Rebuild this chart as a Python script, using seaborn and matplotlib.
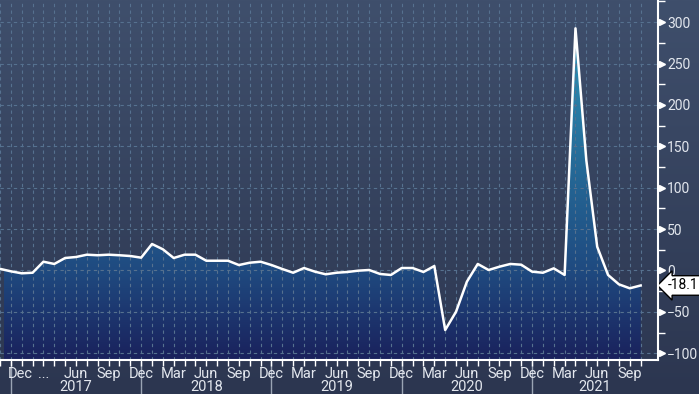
import numpy as np
import pandas as pd
import matplotlib
matplotlib.use("Agg")
import matplotlib.pyplot as plt
import seaborn as sns
from matplotlib.colors import LinearSegmentedColormap
from matplotlib.transforms import (blended_transform_factory, offset_copy,
                                   ScaledTranslation)

# ---------------- data ----------------
month_index = list(range(60))  # 0 = Nov 2016 ... 59 = Oct 2021
values = [2, -1, -3.4, -2.7, 10.6, 7.9, 15.1, 16.3, 19.1, 18.4,
          19.1, 18.4, 17.5, 15.5, 32.0, 25.6, 15.1, 19.1, 19.1, 11.8,
          11.8, 11.8, 6.6, 9.4, 10.6, 6.6, 1.8, -2.7, 3.0, -1.4,
          -4.6, -2.7, -1.8, -0.2, 0.6, -4.2, -5.4, 3.0, 3.0, -1.8,
          5.4, -71.9, -49.8, -13.5, 7.9, 0.6, 4.6, 7.9, 7.0, -1.4,
          -2.7, 2.6, -5.4, 292.5, 133.0, 28.7, -5.4, -16.7, -21.5, -18.1]
tick_months = list(range(1, 60, 3))
tick_labels = ["Dec", "...", "Jun", "Sep"] + ["Dec", "Mar", "Jun", "Sep"] * 4
year_labels = ["2017", "2018", "2019", "2020", "2021"]
year_bounds = [1, 13, 25, 37, 49]
y_ticks = [-100, -50, 0, 50, 100, 150, 200, 250, 300]
last_label = "-18.1"

df = pd.DataFrame({"month": month_index, "value": values})

plt.rcParams["font.family"] = ["Roboto", "DejaVu Sans"]
txt_color = "#e3e7ee"
FS = 10.5
FS_Y = 10

W, H = 699, 394
fig = plt.figure(figsize=(W / 100, H / 100), dpi=100)

# background gradient
bg = fig.add_axes([0, 0, 1, 1], zorder=-10)
bg_cmap = LinearSegmentedColormap.from_list("bg", ["#2c3650", "#3f4f6c"])
bg.imshow(np.linspace(0, 1, 256).reshape(-1, 1), cmap=bg_cmap, aspect="auto",
          origin="lower", extent=[0, 1, 0, 1])
bg.set_axis_off()

ax = fig.add_axes([0, 1 - 359.5 / H, 658 / W, 359.5 / H], zorder=1)
ax.set_facecolor("none")

xlim = (0.34, 60.6)
ylim = (-107.5, 326.7)
ax.set_xlim(*xlim)
ax.set_ylim(*ylim)

# gradient area under the line
poly = ax.fill_between(df["month"], df["value"], ylim[0], color="none", lw=0)
area_cmap = LinearSegmentedColormap.from_list(
    "area", [(0.0, "#1a215c"), (107.5 / 434.2, "#1f4a80"), (1.0, "#2f9cbc")])
img = ax.imshow(np.linspace(0, 1, 256).reshape(-1, 1), cmap=area_cmap,
                aspect="auto", origin="lower",
                extent=[xlim[0], xlim[1], ylim[0], ylim[1]], zorder=1)
img.set_clip_path(poly.get_paths()[0], transform=ax.transData)
ax.set_xlim(*xlim)
ax.set_ylim(*ylim)

# grid
ax.set_xticks(tick_months)
ax.set_xticks(month_index, minor=True)
ax.set_xticklabels(tick_labels)
ax.set_yticks(y_ticks)
ax.set_yticks(np.arange(-75, 326, 50), minor=True)
grid_kw = dict(color="#56718f", lw=0.8, ls=(0, (3, 3)))
ax.grid(True, which="both", axis="x", **grid_kw)
ax.grid(True, which="major", axis="y", **grid_kw)
ax.set_axisbelow(False)
for gl in ax.get_xgridlines() + ax.get_ygridlines():
    gl.set_zorder(2)

# line
sns.lineplot(data=df, x="month", y="value", ax=ax, color="white", lw=1.8,
             zorder=3)
ax.set_xlabel("")
ax.set_ylabel("")

# spines
for s in ["top", "left"]:
    ax.spines[s].set_visible(False)
for s in ["bottom", "right"]:
    ax.spines[s].set_color("white")
    ax.spines[s].set_linewidth(1.5)
    ax.spines[s].set_zorder(4)

# x ticks
ax.tick_params(axis="x", which="both", length=4, width=1, color="white",
               labelsize=FS, labelcolor=txt_color, pad=1.5)
first = ax.xaxis.get_major_ticks()[0].label1
first.set_horizontalalignment("left")
first.set_transform(first.get_transform() +
                    ScaledTranslation(-3 / 100, 0, fig.dpi_scale_trans))

# y ticks on right
ax.yaxis.tick_right()
ax.tick_params(axis="y", which="major", length=0, labelsize=FS_Y,
               labelcolor=txt_color, pad=6.5)
ax.tick_params(axis="y", which="minor", length=5, width=1, color="white")
tri_tr = offset_copy(blended_transform_factory(ax.transAxes, ax.transData),
                     fig=fig, x=3.5, y=0, units="dots")
ax.plot([1] * len(y_ticks), y_ticks, ls="none", marker=">", ms=5,
        color="white", transform=tri_tr, clip_on=False, zorder=5)

# year labels and separators
sep_tr = blended_transform_factory(ax.transData, ax.transAxes)
for b in year_bounds:
    ax.plot([b, b], [-0.008, -0.1], color="#9aa4b4", lw=1, transform=sep_tr,
            clip_on=False)
ends = year_bounds[1:] + [xlim[1]]
for lab, a, b in zip(year_labels, year_bounds, ends):
    ax.text((a + b) / 2, -0.077, lab, transform=sep_tr, ha="center",
            va="center", fontsize=FS, color=txt_color)

# last value annotation
ann_tr = blended_transform_factory(ax.transAxes, ax.transData)
ax.annotate(last_label, xy=(1, values[-1]), xycoords=ann_tr,
            xytext=(10, 0), textcoords="offset pixels", ha="left",
            va="center", fontsize=FS_Y, color="black", annotation_clip=False,
            bbox=dict(boxstyle="larrow,pad=0.2", fc="white", ec="black",
                      lw=1))

fig.savefig("out.png", dpi=100)
